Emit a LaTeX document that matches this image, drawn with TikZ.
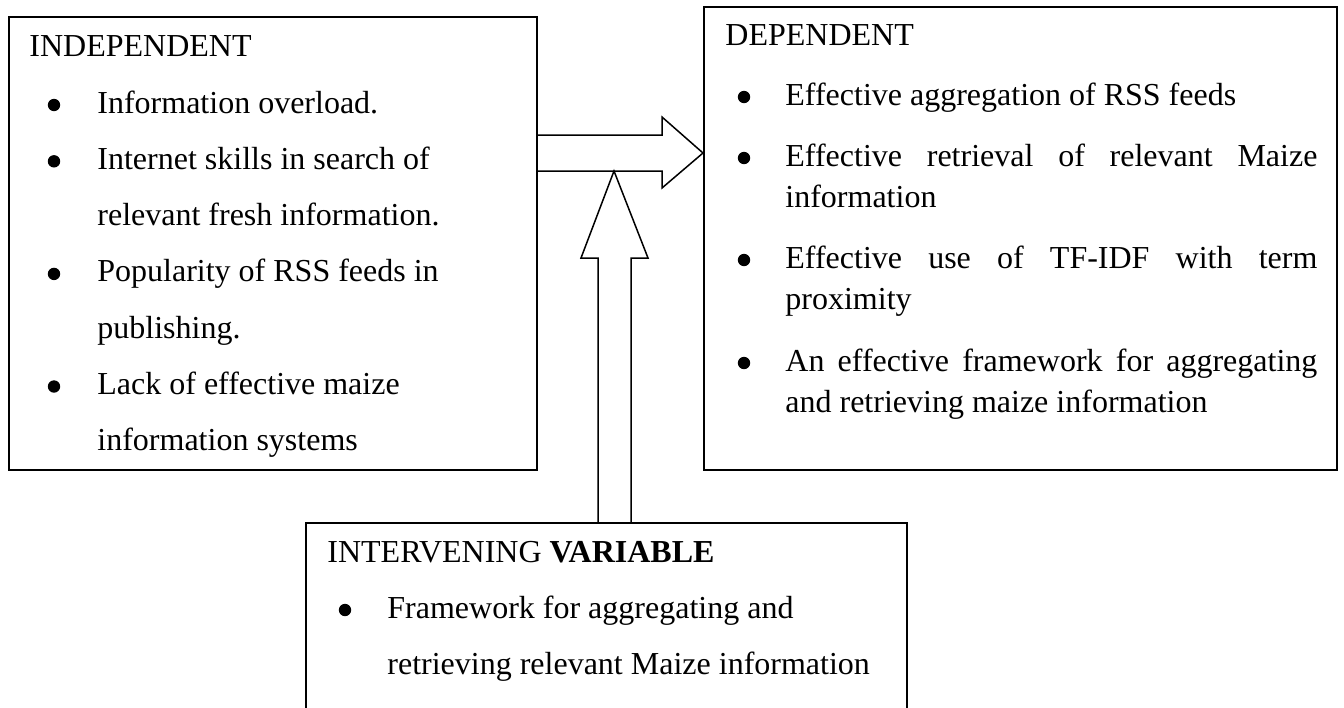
\documentclass[tikz,border=0pt]{standalone}
\usepackage{fontspec}
\setmainfont{Liberation Serif}
\begin{document}
\begin{tikzpicture}[x=0.5pt,y=-0.5pt,
  txt/.style={anchor=base west,inner sep=0pt,font=\fontsize{16pt}{19pt}\selectfont},
  frame/.style={draw,line width=0.8pt,inner sep=0pt,anchor=north west},
  blockarrow/.style={draw,line width=0.75pt,line join=miter},
  dot/.style={circle,fill,inner sep=0pt,minimum size=6.2pt}]
\clip (0,0) rectangle (1344,707);
\fill[white] (0,0) rectangle (1344,707);
% boxes
\node[frame,minimum width=264pt,minimum height=226.5pt] (indep) at (8,16) {};
\node[frame,minimum width=316.5pt,minimum height=231.5pt] (dep) at (703,6) {};
\node[frame,minimum width=300.5pt,minimum height=150pt] (interv) at (305,522) {};
% arrows
\draw[blockarrow] (indep.east |- 0,135) -- (662,135) -- (662,117) -- (dep.west |- 0,153)
  -- (662,188) -- (662,171) -- (indep.east |- 0,171);
\draw[blockarrow] (598,0 |- interv.north) -- (598,258) -- (581,258) -- (614,171)
  -- (648,258) -- (631,258) -- (631,0 |- interv.north);
% independent
\node[txt] (ih) at (29,56) {INDEPENDENT};
\node[txt] (i1) at (97,113) {Information overload.};
\node[txt] (i2) at (97,169.3) {Internet skills in search of};
\node[txt] (i3) at (97,225.6) {relevant fresh information.};
\node[txt] (i4) at (97,281.9) {Popularity of RSS feeds in};
\node[txt] (i5) at (97,338.2) {publishing.};
\node[txt] (i6) at (97,394.5) {Lack of effective maize};
\node[txt] (i7) at (97,450.8) {information systems};
\foreach \yy/\nm in {113/b1,169.3/b2,281.9/b3,394.5/b4}
  \node[dot] (\nm) at (54,\yy-8) {};
% dependent
\node[txt] (dh) at (725,45) {DEPENDENT};
\node[txt] (d1) at (785,105) {Effective aggregation of RSS feeds};
\node[txt] (d2) at (785,166) {\makebox[266pt][s]{Effective retrieval of relevant Maize}};
\node[txt] (d3) at (785,207) {information};
\node[txt] (d4) at (785,268) {\makebox[266pt][s]{Effective use of TF-IDF with term}};
\node[txt] (d5) at (785,309) {proximity};
\node[txt] (d6) at (785,371) {\makebox[266pt][s]{An effective framework for aggregating}};
\node[txt] (d7) at (785,412) {and retrieving maize information};
\foreach \yy/\nm in {105/c1,166/c2,268/c3,371/c4}
  \node[dot] (\nm) at (744,\yy-8) {};
% intervening
\node[txt] (vh) at (327,562) {INTERVENING \textbf{VARIABLE}};
\node[txt] (v1) at (387,618) {Framework for aggregating and};
\node[txt] (v2) at (387,674) {retrieving relevant Maize information};
\node[dot] (e1) at (345,610) {};
\end{tikzpicture}
\end{document}
